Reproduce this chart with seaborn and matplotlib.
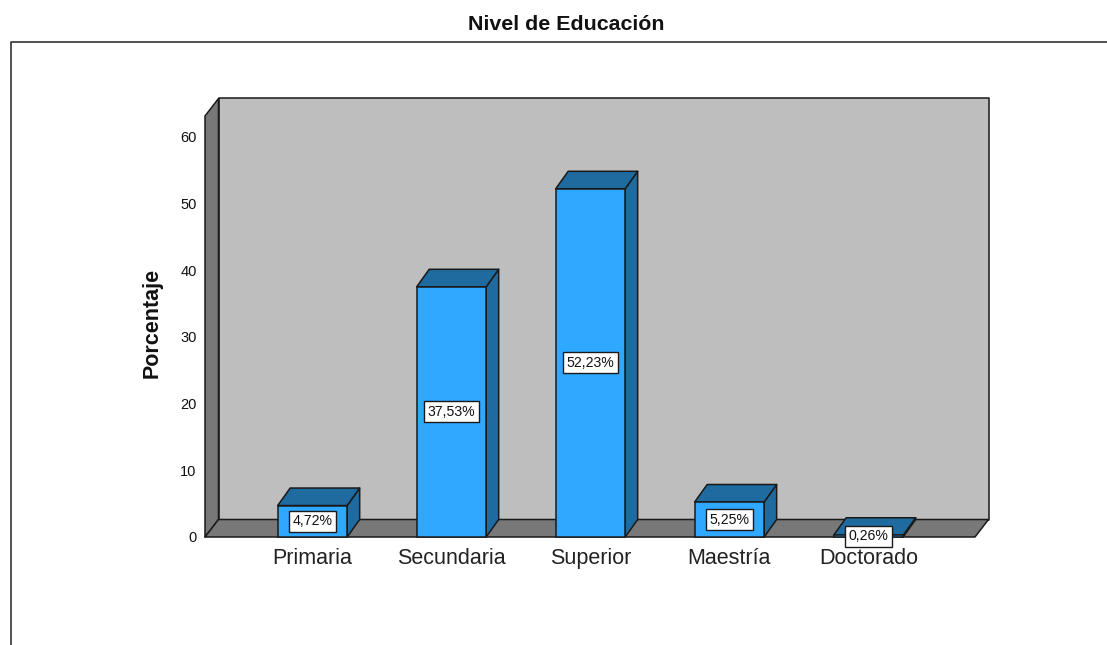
import matplotlib
matplotlib.use("Agg")
from matplotlib.lines import Line2D
from matplotlib.patches import Polygon
import matplotlib.pyplot as plt
import pandas as pd
import seaborn as sns

categories = ["Primaria", "Secundaria", "Superior", "Maestría", "Doctorado"]
percentages = [4.72, 37.53, 52.23, 5.25, 0.26]
value_labels = ["4,72%", "37,53%", "52,23%", "5,25%", "0,26%"]
y_ticks = [0, 10, 20, 30, 40, 50, 60]

FRONT = "#2EA9FF"
SIDE = "#1F6A9F"
WALL = "#BEBEBE"
FLOOR = "#787878"
EDGE = "#1A1A1A"

sns.set_theme(style="white")
plt.rcParams["font.family"] = ["Liberation Sans", "DejaVu Sans"]

W, H = 1107, 645
fig = plt.figure(figsize=(W / 100, H / 100), dpi=100, facecolor="white")
ax = fig.add_axes([205 / W, (H - 537) / H, 770 / W, 421 / H])
ax.patch.set_alpha(0)

df = pd.DataFrame({"nivel": categories, "pct": percentages})
sns.barplot(data=df, x="nivel", y="pct", order=categories, color=FRONT,
            saturation=1, width=0.5, edgecolor=EDGE, linewidth=1.1, ax=ax, zorder=4)

ax.set_xlim(-0.773, 4.767)
ax.set_ylim(0, 63.15)

# 3d depth, px converted to data units
px_x = (4.763 + 0.777) / 770
px_y = 63.15 / 421
dx, dy = 13.5 * px_x, 17.5 * px_y
xmin, xmax = ax.get_xlim()
ymax = ax.get_ylim()[1]


def face(points, color, zorder):
    ax.add_patch(Polygon(points, closed=True, facecolor=color, edgecolor=EDGE,
                         linewidth=1.1, joinstyle="round", clip_on=False, zorder=zorder))


face([(xmin + dx, dy), (xmax + dx, dy), (xmax + dx, ymax + dy), (xmin + dx, ymax + dy)], WALL, 1)
face([(xmin, 0), (xmin + dx, dy), (xmin + dx, ymax + dy), (xmin, ymax)], FLOOR, 1)
face([(xmin, 0), (xmax, 0), (xmax + dx, dy), (xmin + dx, dy)], FLOOR, 1)

bdx, bdy = 12.5 * px_x, 17.5 * px_y
for bar, label in zip(list(ax.patches), value_labels):
    if not hasattr(bar, "get_width"):
        continue
    x0, w, h = bar.get_x(), bar.get_width(), bar.get_height()
    x1 = x0 + w
    face([(x1, 0), (x1 + bdx, bdy), (x1 + bdx, h + bdy), (x1, h)], SIDE, 3)
    face([(x0, h), (x1, h), (x1 + bdx, h + bdy), (x0 + bdx, h + bdy)], SIDE, 3)
    bar.set_clip_on(False)
    ax.text(x0 + w / 2, h / 2, label, ha="center", va="center", fontsize=10.2,
            color="#111111", zorder=6, clip_on=False,
            bbox=dict(boxstyle="square,pad=0.25", facecolor="white", edgecolor=EDGE, linewidth=1))

sns.despine(ax=ax, left=True, bottom=True)
ax.set_yticks(y_ticks)
ax.tick_params(axis="y", length=0, pad=6, labelsize=10.5, labelcolor="#111111")
ax.tick_params(axis="x", length=0, pad=8, labelsize=15.5, labelcolor="#222222")
ax.set_xlabel("")
ax.set_ylabel("Porcentaje", fontsize=15.5, fontweight="bold", color="#111111")
ax.yaxis.set_label_coords(-42 / 770, 0.5 + 4 / 421)

fig.text(566 / W, 1 - 24 / H, "Nivel de Educación", ha="center", va="center",
         fontsize=15.4, fontweight="bold", color="#111111")

# outer frame, open at right and bottom
fig.add_artist(Line2D([10.5 / W, 10.5 / W, 1], [0, 1 - 41.5 / H, 1 - 41.5 / H],
                      color="#222222", linewidth=1.1))

fig.savefig("out.png", dpi=100, facecolor="white")
